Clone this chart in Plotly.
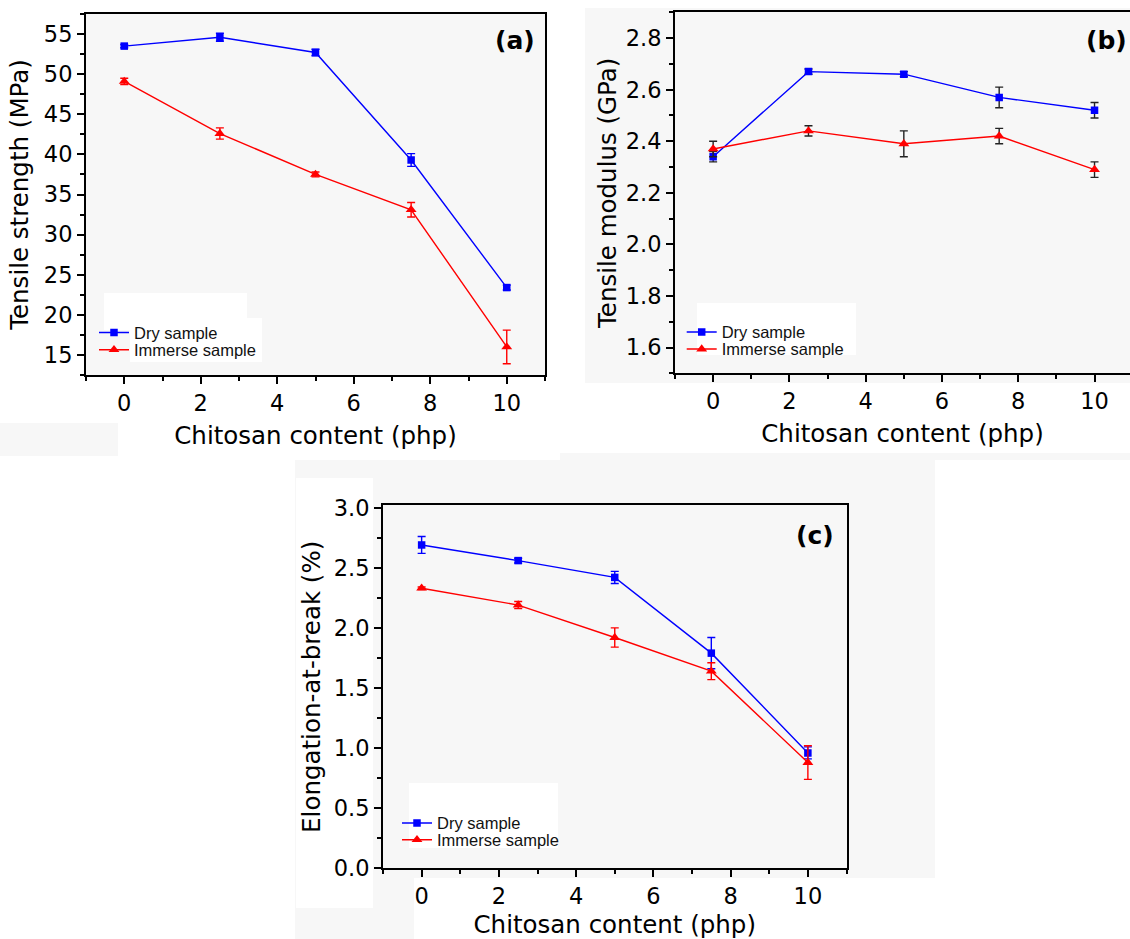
import plotly.graph_objects as go

W, H = 1130, 939

# ---------------- data ----------------
chitosan = [0, 2.5, 5, 7.5, 10]

ts_dry = [53.5, 54.6, 52.7, 39.3, 23.4]
ts_dry_err = [0.2, 0.5, 0.4, 0.8, 0.3]
ts_imm = [49.1, 42.6, 37.5, 33.1, 16.0]
ts_imm_err = [0.4, 0.7, 0.3, 0.9, 2.1]

tm_dry = [2.34, 2.67, 2.66, 2.57, 2.52]
tm_dry_err = [0.02, 0.01, 0.01, 0.04, 0.03]
tm_imm = [2.37, 2.44, 2.39, 2.42, 2.29]
tm_imm_err = [0.03, 0.02, 0.05, 0.03, 0.03]

eb_dry = [2.69, 2.56, 2.42, 1.79, 0.96]
eb_dry_err = [0.07, 0.02, 0.05, 0.13, 0.05]
eb_imm = [2.33, 2.19, 1.92, 1.64, 0.88]
eb_imm_err = [0.01, 0.03, 0.08, 0.07, 0.14]

series_names = ["Dry sample", "Immerse sample"]
x_title = "Chitosan content (php)"
y_titles = ["Tensile strength (MPa)", "Tensile modulus (GPa)", "Elongation-at-break (%)"]
panel_labels = ["(a)", "(b)", "(c)"]

BLUE = "#0000ff"
RED = "#ff0000"
BG = "#f7f7f7"


def px(x):
    return x / W


def py(y):
    return 1 - y / H


fig = go.Figure()


def add_pair(xa, ya, leg_dry, leg_imm, dry, dry_err, imm, imm_err, ecol_dry, ecol_imm):
    fig.add_trace(go.Scatter(
        x=chitosan, y=dry, mode="lines+markers", name=series_names[0],
        line=dict(color=BLUE, width=1.4),
        marker=dict(symbol="square", size=7.5, color=BLUE),
        error_y=dict(type="data", array=dry_err, color=ecol_dry, thickness=1.4, width=4),
        xaxis=xa, yaxis=ya, legend=leg_dry))
    fig.add_trace(go.Scatter(
        x=chitosan, y=imm, mode="lines+markers", name=series_names[1],
        line=dict(color=RED, width=1.4),
        marker=dict(symbol="triangle-up", size=9.5, color=RED),
        error_y=dict(type="data", array=imm_err, color=ecol_imm, thickness=1.4, width=4),
        xaxis=xa, yaxis=ya, legend=leg_imm))


add_pair("x", "y", "legend", "legend2", ts_dry, ts_dry_err, ts_imm, ts_imm_err, BLUE, RED)
add_pair("x2", "y2", "legend3", "legend4", tm_dry, tm_dry_err, tm_imm, tm_imm_err, "#222222", "#222222")
add_pair("x3", "y3", "legend5", "legend6", eb_dry, eb_dry_err, eb_imm, eb_imm_err, BLUE, RED)

TICKFONT = dict(family="DejaVu Sans", size=22.5, color="black")
TITLEFONT = dict(family="DejaVu Sans", size=24.5, color="black")


def axis(domain, rng, dtick, minor_dtick, title, mirror=True, fmt=None, standoff=8):
    d = dict(
        domain=domain, range=rng, dtick=dtick, tick0=0,
        showline=True, linecolor="black", linewidth=2, mirror=mirror,
        ticks="outside", ticklen=7, tickwidth=1.5, tickcolor="black",
        showgrid=False, zeroline=False, tickfont=TICKFONT,
        title=dict(text=title, font=TITLEFONT, standoff=standoff),
        minor=dict(dtick=minor_dtick, tick0=0, ticks="outside", ticklen=4,
                   tickwidth=1.5, tickcolor="black", showgrid=False),
        automargin=False,
    )
    if fmt:
        d["tickformat"] = fmt
    return d


# panel (a)
xa = axis([px(86), px(545)], [-1, 11], 2, 1, x_title, standoff=12)
ya = axis([py(375), py(14)], [12.5, 57.5], 5, 2.5, y_titles[0], standoff=8)
# panel (b)  (right border falls outside the picture)
xb = axis([px(675), 1.0], [-1, 10.93], 2, 1, x_title, standoff=12)
yb = axis([py(373.3), py(12.3)], [1.5, 2.9], 0.2, 0.1, y_titles[1], mirror=False, fmt=".1f", standoff=2)
# panel (c)
xc = axis([px(383), px(846.5)], [-1, 11], 2, 1, x_title, standoff=12)
yc = axis([py(868.3), py(505.3)], [0, 3.02], 0.5, 0.25, y_titles[2], fmt=".1f", standoff=6)

xa["anchor"] = "y"; ya["anchor"] = "x"
xb["anchor"] = "y2"; yb["anchor"] = "x2"
xc["anchor"] = "y3"; yc["anchor"] = "x3"


def rect(x0, y0, x1, y1, color):
    return dict(type="rect", xref="paper", yref="paper",
                x0=px(x0), x1=px(x1), y0=py(y1), y1=py(y0),
                fillcolor=color, line=dict(width=0), layer="below")


shapes = [
    rect(0, 423, 118, 456, BG),
    rect(585, 8, 1130, 383, BG),
    rect(560, 453, 1130, 460, BG),
    rect(295, 460, 935, 939, BG),
    rect(296, 478, 373, 908, "white"),
    rect(414, 878, 935, 939, "white"),
    rect(86, 14, 545, 375, BG),
    rect(383, 505, 846.5, 868.3, BG),
    rect(104, 293, 247, 330, "white"),
    rect(130, 318, 262, 362, "white"),
    rect(697, 303, 856, 355, "white"),
    rect(409, 783, 558, 848, "white"),
]

LEGFONT = dict(family="Liberation Sans", size=16.5, color="#111111")


def legend(xl, ymid):
    return dict(x=px(xl), y=py(ymid), xanchor="left", yanchor="middle",
                bgcolor="rgba(0,0,0,0)", borderwidth=0, font=LEGFONT,
                itemwidth=30, tracegroupgap=0)


annotations = []
for lab, (cx, cy) in zip(panel_labels, [(515, 40.5), (1106, 40.5), (815, 535.5)]):
    annotations.append(dict(text="<b>" + lab + "</b>", x=px(cx), y=py(cy), xref="paper", yref="paper",
                            xanchor="center", yanchor="middle", showarrow=False,
                            font=dict(family="DejaVu Sans", size=25, color="black")))

fig.update_layout(
    width=W, height=H, margin=dict(l=0, r=0, t=0, b=0),
    paper_bgcolor="white", plot_bgcolor="rgba(0,0,0,0)",
    xaxis=xa, yaxis=ya, xaxis2=xb, yaxis2=yb, xaxis3=xc, yaxis3=yc,
    legend=legend(94, 332.7), legend2=legend(94, 350),
    legend3=legend(681.7, 332.3), legend4=legend(681.7, 349.3),
    legend5=legend(397, 823.3), legend6=legend(397, 840),
    shapes=shapes, annotations=annotations, showlegend=True,
)

fig.write_html("out.html", config={"displayModeBar": False},
               post_script="document.body.style.margin='0';document.body.style.overflow='hidden';")
